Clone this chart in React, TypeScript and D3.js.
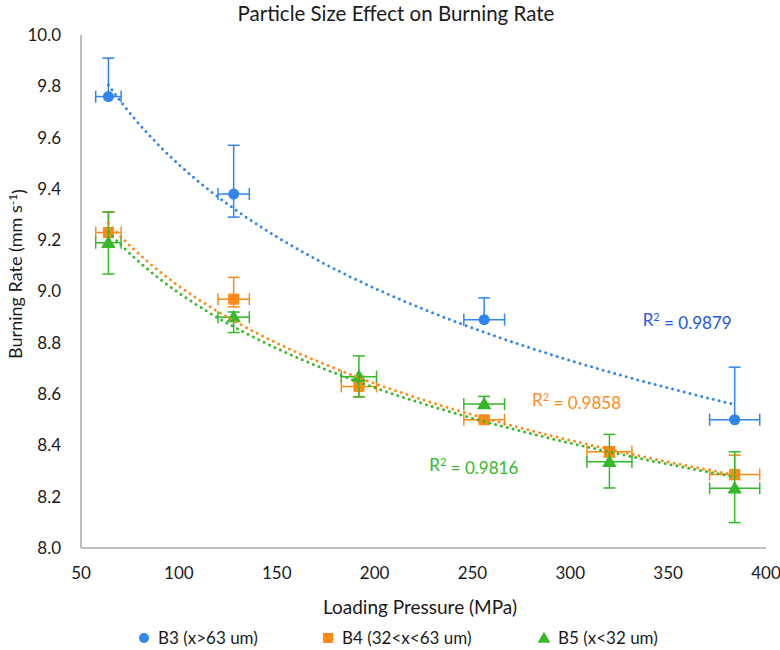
import React, { useEffect } from "react";
import * as d3 from "d3";

// --- data ---
const b3Pressure = [64, 128, 256, 384];
const b3Rate = [9.76, 9.38, 8.89, 8.5];
const b3ErrPlus = [0.15, 0.19, 0.085, 0.205];
const b3ErrMinus = [0, 0.09, 0, 0];
const b3ErrX = [6.5, 8, 10.4, 12.8];

const b4Pressure = [64, 128, 192, 256, 320, 384];
const b4Rate = [9.23, 8.97, 8.63, 8.5, 8.375, 8.287];
const b4ErrPlus = [0.08, 0.085, 0.04, 0.01, 0.02, 0.075];
const b4ErrMinus = [0.05, 0.03, 0.04, 0.01, 0.02, 0.02];
const b4ErrX = [6.5, 8, 9, 10.4, 11.5, 12.8];

const b5Pressure = [64, 128, 192, 256, 320, 384];
const b5Rate = [9.19, 8.9, 8.668, 8.561, 8.336, 8.233];
const b5ErrPlus = [0.12, 0.02, 0.081, 0.03, 0.107, 0.142];
const b5ErrMinus = [0.122, 0.06, 0.079, 0, 0.102, 0.134];
const b5ErrX = [6.5, 8, 9, 10.4, 11.5, 12.8];

const seriesNames = ["B3 (x>63 um)", "B4 (32<x<63 um)", "B5 (x<32 um)"];
const r2Values = ["0.9879", "0.9858", "0.9816"];
const xTicks = [50, 100, 150, 200, 250, 300, 350, 400];
const yTicks = [8.0, 8.2, 8.4, 8.6, 8.8, 9.0, 9.2, 9.4, 9.6, 9.8, 10.0];

const W = 780;
const H = 650;
const FONT = "Lato, 'Open Sans', sans-serif";
const AXIS = "#A3ADAB";
const TXT = "#1a1a1a";

const COLORS = ["#2E86EE", "#FF8A17", "#35B82A"];
const R2_COLORS = ["#2356E2", "#FF8A17", "#35B82A"];
// where each R² label starts (value coords)
const R2_POS: [number, number][] = [
  [337, 8.889],
  [280.5, 8.577],
  [228, 8.324],
];

type Pt = { x: number; y: number; ep: number; em: number; ex: number };

function build(xs: number[], ys: number[], ep: number[], em: number[], ex: number[]): Pt[] {
  return xs.map((x, i) => ({ x, y: ys[i], ep: ep[i], em: em[i], ex: ex[i] }));
}

const series: Pt[][] = [
  build(b3Pressure, b3Rate, b3ErrPlus, b3ErrMinus, b3ErrX),
  build(b4Pressure, b4Rate, b4ErrPlus, b4ErrMinus, b4ErrX),
  build(b5Pressure, b5Rate, b5ErrPlus, b5ErrMinus, b5ErrX),
];

// logarithmic least-squares fit, like an Excel log trendline
function logFit(pts: Pt[]) {
  const lx = pts.map((p) => Math.log(p.x));
  const mx = d3.mean(lx) as number;
  const my = d3.mean(pts, (p) => p.y) as number;
  let sxx = 0;
  let sxy = 0;
  pts.forEach((p, i) => {
    sxx += (lx[i] - mx) ** 2;
    sxy += (lx[i] - mx) * (p.y - my);
  });
  const b = sxy / sxx;
  const a = my - b * mx;
  return (x: number) => a + b * Math.log(x);
}

const x = d3.scaleLinear().domain([50, 400]).range([81, 766]);
const y = d3.scaleLinear().domain([8, 10]).range([548, 35]);

function Marker({ kind, cx, cy, color }: { kind: number; cx: number; cy: number; color: string }) {
  if (kind === 0) return <circle cx={cx} cy={cy} r={5.5} fill={color} />;
  if (kind === 1) return <rect x={cx - 5.5} y={cy - 5.5} width={11} height={11} fill={color} />;
  const s = d3.symbol(d3.symbolTriangle, 90)();
  return <path d={s as string} transform={`translate(${cx},${cy + 1})`} fill={color} />;
}

export default function App() {
  useEffect(() => {
    document.body.style.margin = "0";
  }, []);

  const cap = 6;

  return (
    <svg width={W} height={H} style={{ display: "block", background: "#fff" }} fontFamily={FONT}>
      <text x={396} y={21} textAnchor="middle" fontSize={20.5} fill={TXT}>
        Particle Size Effect on Burning Rate
      </text>

      {/* axes */}
      <line x1={x(50)} x2={x(50)} y1={y(10)} y2={y(8)} stroke={AXIS} strokeWidth={1.5} />
      <line x1={x(50)} x2={x(400)} y1={y(8)} y2={y(8)} stroke={AXIS} strokeWidth={1.5} />

      {yTicks.map((t) => (
        <text key={t} x={61} y={y(t)} dy="0.35em" textAnchor="end" fontSize={17} fill={TXT}>
          {t.toFixed(1)}
        </text>
      ))}
      {xTicks.map((t) => (
        <text key={t} x={x(t)} y={573} dy="0.35em" textAnchor="middle" fontSize={17} fill={TXT}>
          {t}
        </text>
      ))}

      <text x={420} y={607} dy="0.35em" textAnchor="middle" fontSize={19} fill={TXT}>
        Loading Pressure (MPa)
      </text>
      <text
        transform={`translate(16,274) rotate(-90)`}
        textAnchor="middle"
        dy="0.35em"
        fontSize={18}
        fill={TXT}
      >
        Burning Rate (mm s
        <tspan dy="-0.45em" fontSize={12}>
          -1
        </tspan>
        <tspan dy="0.45em">)</tspan>
      </text>

      {/* error bars and markers */}
      {series.map((pts, si) => (
        <g key={si} stroke={COLORS[si]} strokeWidth={1.5} fill="none">
          {pts.map((p, i) => {
            const px = x(p.x);
            const py = y(p.y);
            const yTop = y(p.y + p.ep);
            const yBot = y(p.y - p.em);
            const xl = x(p.x - p.ex);
            const xr = x(p.x + p.ex);
            return (
              <g key={i}>
                <line x1={px} x2={px} y1={yTop} y2={yBot} />
                {p.ep > 0 && <line x1={px - cap} x2={px + cap} y1={yTop} y2={yTop} />}
                {p.em > 0 && <line x1={px - cap} x2={px + cap} y1={yBot} y2={yBot} />}
                <line x1={xl} x2={xr} y1={py} y2={py} />
                <line x1={xl} x2={xl} y1={py - cap} y2={py + cap} />
                <line x1={xr} x2={xr} y1={py - cap} y2={py + cap} />
              </g>
            );
          })}
          <g stroke="none">
            {pts.map((p, i) => (
              <Marker key={i} kind={si} cx={x(p.x)} cy={y(p.y)} color={COLORS[si]} />
            ))}
          </g>
        </g>
      ))}

      {/* dotted log trendlines */}
      {series.map((pts, si) => {
        const f = logFit(pts);
        const x0 = pts[0].x;
        const x1 = pts[pts.length - 1].x;
        const xs = d3.range(0, 101).map((k) => x0 + ((x1 - x0) * k) / 100);
        const line = d3
          .line<number>()
          .x((v) => x(v))
          .y((v) => y(f(v)));
        return (
          <path
            key={si}
            d={line(xs) as string}
            fill="none"
            stroke={COLORS[si]}
            strokeWidth={3}
            strokeLinecap="round"
            strokeDasharray="0 6"
          />
        );
      })}

      {/* R² labels */}
      {r2Values.map((v, si) => (
        <text
          key={si}
          x={x(R2_POS[si][0])}
          y={y(R2_POS[si][1])}
          dy="0.35em"
          fontSize={17}
          fill={R2_COLORS[si]}
        >
          R<tspan dy="-0.45em" fontSize={11}>2</tspan>
          <tspan dy="0.45em">{` = ${v}`}</tspan>
        </text>
      ))}

      {/* legend */}
      {seriesNames.map((name, si) => {
        const lx = [144, 328, 544][si];
        const ly = 638;
        return (
          <g key={si}>
            {si === 0 && <circle cx={lx} cy={ly} r={5} fill={COLORS[0]} />}
            {si === 1 && <rect x={lx - 5} y={ly - 5} width={10} height={10} fill={COLORS[1]} />}
            {si === 2 && (
              <path
                d={d3.symbol(d3.symbolTriangle, 70)() as string}
                transform={`translate(${lx},${ly + 1})`}
                fill={COLORS[2]}
              />
            )}
            <text x={lx + 14} y={ly} dy="0.35em" fontSize={17} fill={TXT}>
              {name}
            </text>
          </g>
        );
      })}
    </svg>
  );
}
